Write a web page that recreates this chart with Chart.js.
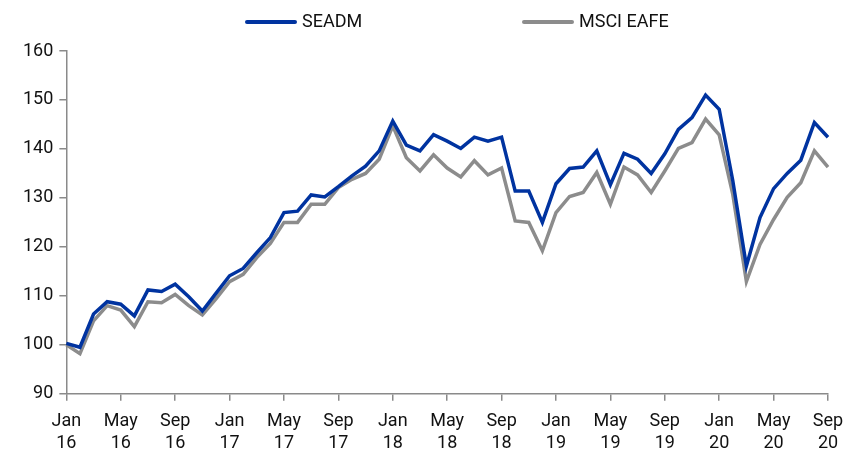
<!DOCTYPE html>
<html>
<head>
<meta charset="utf-8">
<script src="https://cdn.jsdelivr.net/npm/chart.js@4.4.1/dist/chart.umd.min.js"></script>
<style>
  body { margin: 0; background: #fff; }
  #wrap { width: 848px; height: 455px; }
</style>
</head>
<body>
<div id="wrap"><canvas id="myChart" width="848" height="455"></canvas></div>
<script>
// monthly, Jan 2016 .. Sep 2020
var months = ['Jan','Feb','Mar','Apr','May','Jun','Jul','Aug','Sep','Oct','Nov','Dec'];
var labels = [];
for (let y = 16; y <= 20; y++) {
	for (let m = 0; m < 12; m++) {
		if (y == 20 && m > 8) break;
		labels.push([months[m], String(y)]);
	}
}

var seadm = [100.3, 99.5, 106.3, 108.8, 108.3, 105.9, 111.2, 110.9, 112.4, 109.8, 106.9, 110.5,
	114.1, 115.6, 118.8, 121.9, 127.0, 127.3, 130.6, 130.2, 132.3, 134.5, 136.5, 139.6,
	145.7, 140.8, 139.6, 142.9, 141.6, 140.1, 142.4, 141.6, 142.4, 131.4, 131.4, 125.0,
	132.9, 136.0, 136.3, 139.6, 132.7, 139.1, 137.9, 135.0, 139.0, 144.0, 146.4, 151.0,
	148.1, 133.5, 116.1, 126.0, 131.9, 135.0, 137.7, 145.4, 142.4];

var msciEafe = [100.0, 98.2, 104.9, 108.0, 107.1, 103.7, 108.8, 108.6, 110.3, 108.0, 106.1, 109.4,
	112.9, 114.4, 117.8, 120.7, 125.0, 125.0, 128.7, 128.7, 132.1, 133.8, 135.0, 137.9,
	144.7, 138.2, 135.5, 138.8, 136.1, 134.3, 137.6, 134.7, 136.1, 125.3, 125.0, 119.2,
	127.0, 130.3, 131.1, 135.2, 128.7, 136.3, 134.7, 131.1, 135.5, 140.1, 141.3, 146.1,
	142.9, 130.7, 112.9, 120.5, 125.6, 130.1, 133.1, 139.6, 136.3];

var blue = '#0033a0';
var grey = '#8c8c8c';
var axisGrey = '#8a8a8a';
var fontFamily = 'Roboto, sans-serif';

// legend drawn by hand so the two entries sit where they do in the original
var topLegend = {
	id: 'topLegend',
	afterDraw: function(chart) {
		var ctx = chart.ctx;
		var items = [
			{x: 245, ds: chart.data.datasets[0]},
			{x: 522, ds: chart.data.datasets[1]}
		];
		ctx.save();
		ctx.font = '18px ' + fontFamily;
		ctx.textBaseline = 'middle';
		ctx.lineCap = 'round';
		items.forEach(function(it) {
			ctx.strokeStyle = it.ds.borderColor;
			ctx.lineWidth = 4;
			ctx.beginPath();
			ctx.moveTo(it.x + 2, 22);
			ctx.lineTo(it.x + 50, 22);
			ctx.stroke();
			ctx.fillStyle = '#111';
			ctx.fillText(it.ds.label, it.x + 57, 22);
		});
		ctx.restore();
	}
};

var ctx = document.getElementById('myChart').getContext('2d');
var chart = new Chart(ctx, {
	type: 'line',
	data: {
		labels: labels,
		datasets: [{
			label: 'SEADM',
			borderColor: blue,
			backgroundColor: blue,
			borderWidth: 3.5,
			data: seadm
		}, {
			label: 'MSCI EAFE',
			borderColor: grey,
			backgroundColor: grey,
			borderWidth: 3.5,
			data: msciEafe
		}]
	},
	options: {
		responsive: false,
		animation: false,
		layout: { padding: { top: 51, right: 0, left: 17, bottom: -9 } },
		elements: {
			point: { radius: 0 },
			line: { tension: 0, borderJoinStyle: 'miter' }
		},
		plugins: {
			legend: { display: false },
			tooltip: { enabled: false }
		},
		scales: {
			x: {
				offset: false,
				border: { color: axisGrey, width: 1.5 },
				grid: { drawOnChartArea: false, drawTicks: true, tickLength: 7, color: axisGrey, lineWidth: 1.5 },
				afterFit: function(scale) {
					scale.paddingRight = 20;
				},
				ticks: {
					autoSkip: false,
					maxRotation: 0,
					padding: 10,
					color: '#111',
					font: { family: fontFamily, size: 18 },
					callback: function(v, i) {
						return i % 4 == 0 ? labels[i] : null;
					}
				}
			},
			y: {
				min: 90,
				max: 160,
				border: { color: axisGrey, width: 1.5 },
				grid: { drawOnChartArea: false, drawTicks: true, tickLength: 7, color: axisGrey, lineWidth: 1.5 },
				ticks: {
					stepSize: 10,
					padding: 6,
					color: '#111',
					font: { family: fontFamily, size: 18 }
				}
			}
		}
	},
	plugins: [topLegend]
});
</script>
</body>
</html>
